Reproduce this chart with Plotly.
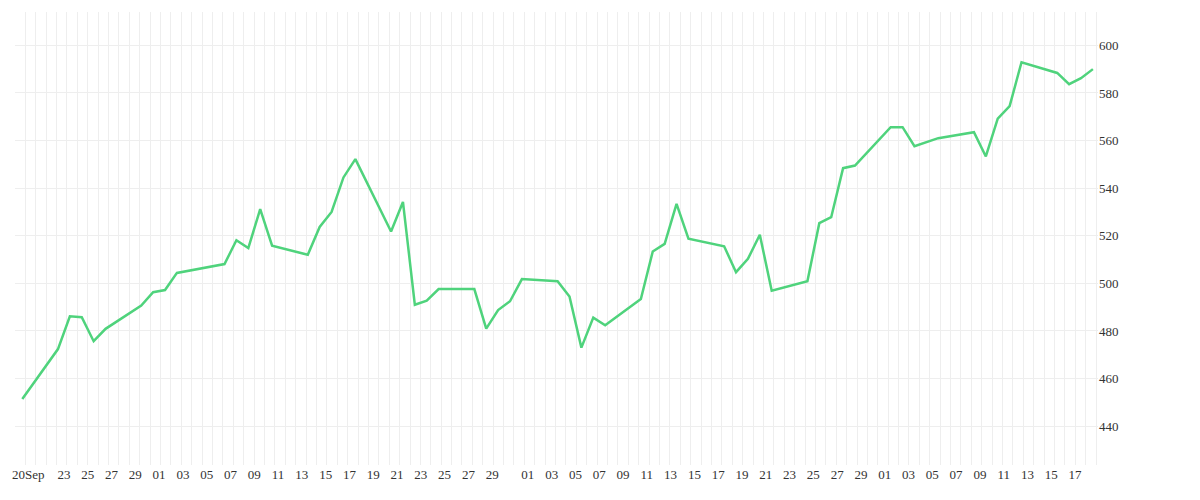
import plotly.graph_objects as go
import pandas as pd

dates = ["2019-09-20","2019-09-23","2019-09-24","2019-09-25","2019-09-26","2019-09-27","2019-09-30",
         "2019-10-01","2019-10-02","2019-10-03","2019-10-07","2019-10-08","2019-10-09","2019-10-10","2019-10-11",
         "2019-10-14","2019-10-15","2019-10-16","2019-10-17","2019-10-18","2019-10-21","2019-10-22","2019-10-23",
         "2019-10-24","2019-10-25","2019-10-28","2019-10-29","2019-10-30","2019-10-31","2019-11-01",
         "2019-11-04","2019-11-05","2019-11-06","2019-11-07","2019-11-08","2019-11-11","2019-11-12","2019-11-13",
         "2019-11-14","2019-11-15","2019-11-18","2019-11-19","2019-11-20","2019-11-21","2019-11-22",
         "2019-11-25","2019-11-26","2019-11-27","2019-11-28","2019-11-29","2019-12-02","2019-12-03","2019-12-04",
         "2019-12-06","2019-12-09","2019-12-10","2019-12-11","2019-12-12","2019-12-13","2019-12-16",
         "2019-12-17","2019-12-18","2019-12-19"]
values = [451.4,472.4,486.2,485.8,475.7,480.9,490.7,
          496.3,497.2,504.4,508.1,518.1,514.8,531.2,515.8,
          512.0,523.7,530.0,544.5,552.2,521.8,534.2,491.0,
          492.7,497.6,497.6,481.0,488.8,492.5,501.8,
          500.9,494.5,473.0,485.6,482.4,493.4,513.4,516.6,
          533.4,518.8,515.6,504.7,510.3,520.4,496.9,
          500.9,525.3,527.8,548.4,549.5,565.6,565.6,557.6,
          561.0,563.5,553.3,569.2,574.5,592.9,588.4,
          583.7,586.2,590.0]

tick_dates = (["2019-09-20","2019-09-23","2019-09-25","2019-09-27","2019-09-29"]
              + [f"2019-10-{d:02d}" for d in range(1, 30, 2)]
              + [f"2019-11-{d:02d}" for d in range(1, 30, 2)]
              + [f"2019-12-{d:02d}" for d in range(1, 20, 2)])
tick_text = ["20Sep"] + [d[-2:] for d in tick_dates[1:]]
tick_vals = [pd.Timestamp(d) + pd.Timedelta(hours=12) for d in tick_dates]

fig = go.Figure(go.Scatter(x=pd.to_datetime(dates), y=values, mode="lines",
                           line=dict(color="#4fd37c", width=2.5)))
x0 = pd.Timestamp("2019-09-19 09:18")
fig.update_layout(
    width=1200, height=500, margin=dict(l=5, r=110, t=4, b=43),
    plot_bgcolor="white", paper_bgcolor="white", showlegend=False,
    font=dict(family="Liberation Serif", size=13, color="#333"),
    xaxis=dict(type="date", range=[x0, pd.Timestamp("2019-12-19 10:17")],
               tickvals=tick_vals, ticktext=tick_text, showgrid=False, zeroline=False,
               showline=False, ticks="",
               minor=dict(showgrid=True, gridcolor="#eeeeee", gridwidth=1,
                          tick0=x0, dtick=75500000)),
    yaxis=dict(side="right", range=[423.7, 614], dtick=20, tick0=0,
               gridcolor="#eeeeee", zeroline=False, showline=False, ticks=""),
)
fig.write_html("out.html")
